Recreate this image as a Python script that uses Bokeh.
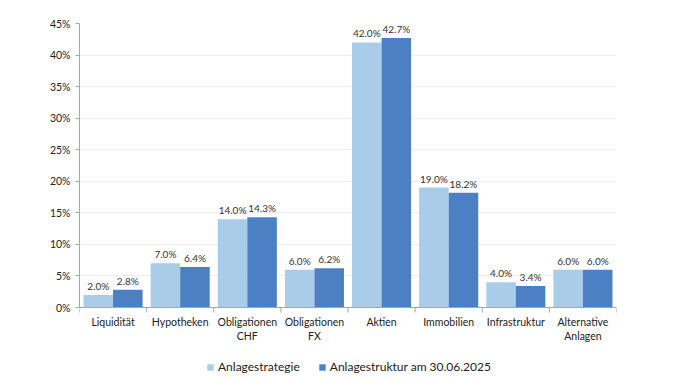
from bokeh.plotting import figure
from bokeh.models import ColumnDataSource, FixedTicker, NumeralTickFormatter, Range1d, Legend, LegendItem, Span
from bokeh.core.properties import value
from bokeh.embed import file_html
from bokeh.resources import INLINE

categories = ["Liquidität", "Hypotheken", "Obligationen\nCHF", "Obligationen\nFX", "Aktien",
              "Immobilien", "Infrastruktur", "Alternative\nAnlagen"]
strategie = [2.0, 7.0, 14.0, 6.0, 42.0, 19.0, 4.0, 6.0]
struktur = [2.8, 6.4, 14.3, 6.2, 42.7, 18.2, 3.4, 6.0]
series_names = ["Anlagestrategie", "Anlagestruktur am 30.06.2025"]

FONT = "Lato"
LIGHT = "#A9CCE9"
DARK = "#4C80C4"
AXIS = "#a6a6a6"

n = len(categories)
centers = [i + 0.5 for i in range(n)]
bounds = list(range(n + 1))
off = 0.22
w = 0.44

# frame geometry: 0..45% over 284 px, extra room below for category labels and legend
YMAX = 0.45
PLOT_PX = 284
EXTRA_PX = 69
per_px = YMAX / PLOT_PX
ymin = -EXTRA_PX * per_px

src1 = ColumnDataSource(dict(x=[c - off for c in centers], y=[v / 100 for v in strategie],
                             lbl=[f"{v:.1f}%" for v in strategie]))
src2 = ColumnDataSource(dict(x=[c + off for c in centers], y=[v / 100 for v in struktur],
                             lbl=[f"{v:.1f}%" for v in struktur]))

p = figure(frame_width=537, frame_height=PLOT_PX + EXTRA_PX, output_backend="svg", toolbar_location=None,
           x_range=Range1d(0, n), y_range=Range1d(ymin, YMAX), x_axis_location=None,
           min_border_left=79, min_border_right=44, min_border_top=23, min_border_bottom=0)
p.outline_line_color = None
p.background_fill_color = "white"
p.border_fill_color = "white"

p.xgrid.grid_line_color = None
p.ygrid.grid_line_color = "#eeeeee"
p.ygrid.ticker = FixedTicker(ticks=[i * 0.05 for i in range(1, 10)])

r1 = p.vbar(x="x", top="y", width=w, source=src1, fill_color=LIGHT, line_color=None)
r2 = p.vbar(x="x", top="y", width=w, source=src2, fill_color=DARK, line_color=None)

for s in (src1, src2):
    p.text(x="x", y="y", text="lbl", source=s, text_align="center", text_baseline="bottom",
           y_offset=-3, text_font=value(FONT), text_font_size="10px", text_color="#333333")

# category axis drawn in the frame
p.add_layout(Span(location=0, dimension="width", line_color=AXIS, line_width=1))
p.segment(x0=bounds, y0=[0] * len(bounds), x1=bounds, y1=[-5 * per_px] * len(bounds),
          line_color=AXIS, line_width=1)
p.text(x=centers, y=[0] * n, text=categories, text_align="center", text_baseline="top",
       y_offset=8, text_font=value(FONT), text_font_size="10.5px", text_color="#222222",
       text_line_height=1.22)

# value axis
p.yaxis.ticker = FixedTicker(ticks=[i * 0.05 for i in range(10)])
p.yaxis.bounds = (0, YMAX)
p.yaxis.formatter = NumeralTickFormatter(format="0%")
p.yaxis.axis_line_color = AXIS
p.yaxis.major_tick_line_color = AXIS
p.yaxis.major_tick_in = 0
p.yaxis.major_tick_out = 4
p.yaxis.minor_tick_line_color = None
p.yaxis.major_label_text_font = FONT
p.yaxis.major_label_text_font_size = "10.5px"
p.yaxis.major_label_text_color = "#222222"
p.yaxis.major_label_standoff = 5

legend = Legend(items=[LegendItem(label=series_names[0], renderers=[r1]),
                       LegendItem(label=series_names[1], renderers=[r2])],
                orientation="horizontal", location=(127, 2),
                label_text_font=FONT, label_text_font_size="12px", label_text_color="#222222",
                glyph_width=8, glyph_height=8, spacing=18, label_standoff=4, label_height=12,
                border_line_color=None, background_fill_alpha=0, padding=2, margin=0)
p.add_layout(legend, "center")

open("out.html", "w").write(file_html(p, INLINE))
